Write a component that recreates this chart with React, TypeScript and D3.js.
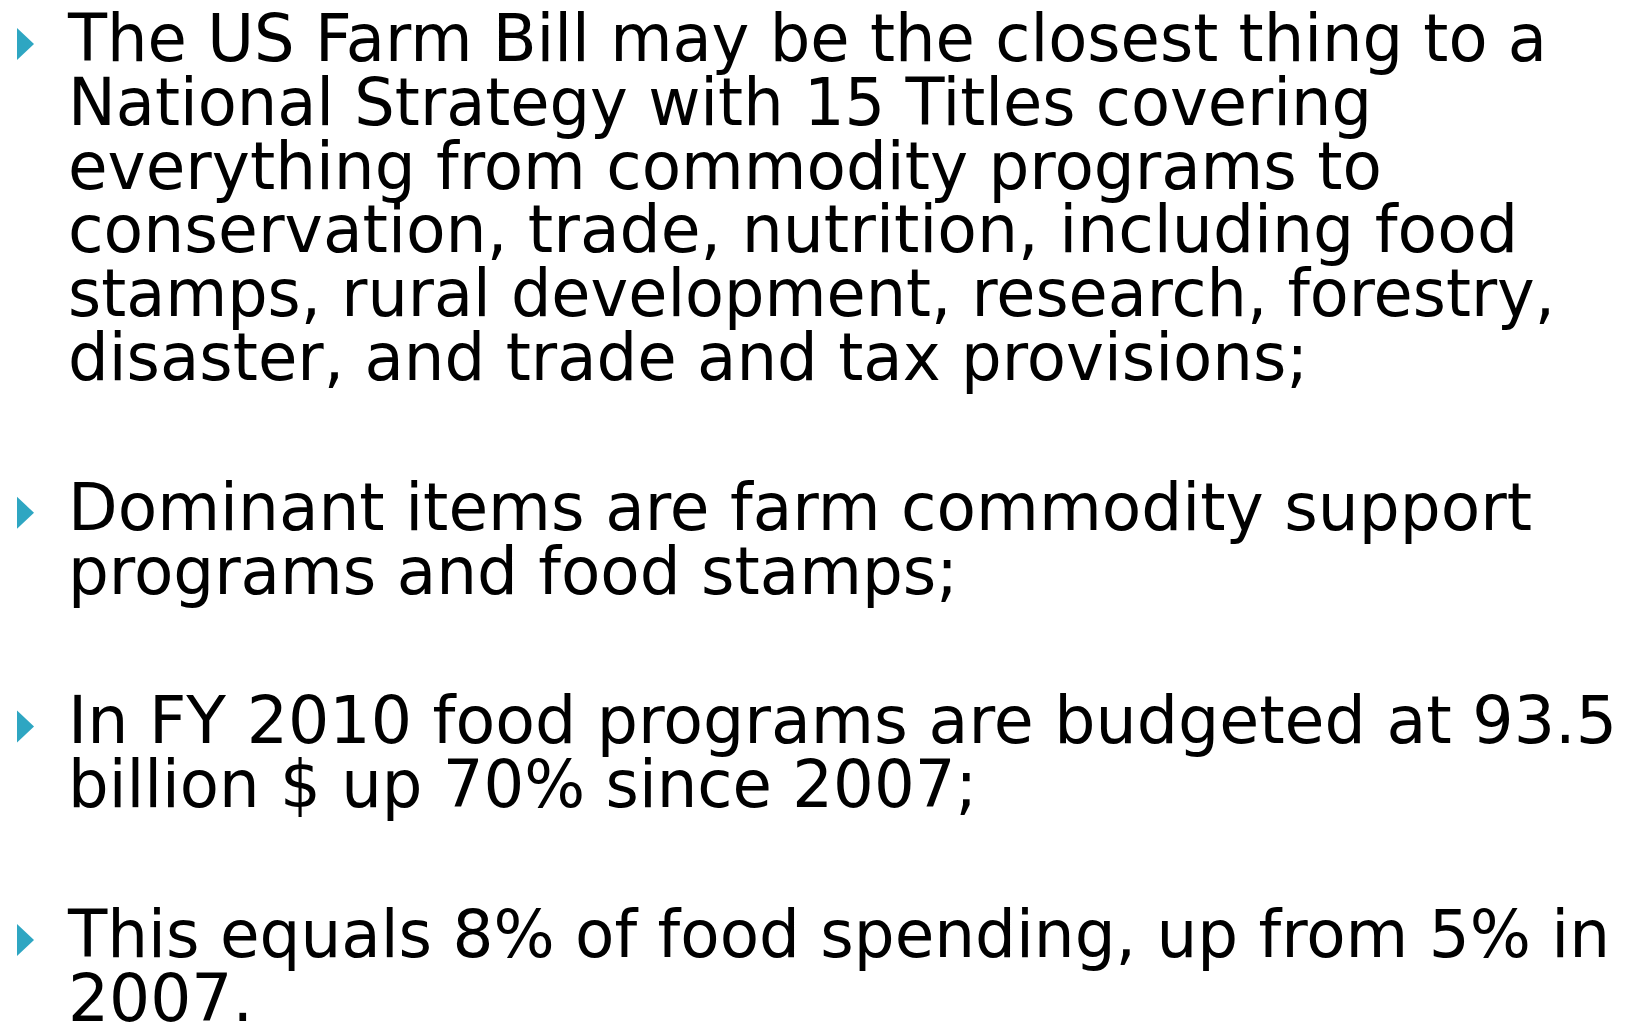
import React, { useEffect, useRef } from "react";
import * as d3 from "d3";

// slide text, one array per bullet (line breaks as in the original)
const bullet1 = [
  "The US Farm Bill may be the closest thing to a",
  "National Strategy with 15 Titles covering",
  "everything from commodity programs to",
  "conservation, trade, nutrition, including food",
  "stamps, rural development, research, forestry,",
  "disaster, and trade and tax provisions;",
];
const bullet2 = [
  "Dominant items are farm commodity support",
  "programs and food stamps;",
];
const bullet3 = [
  "In FY 2010 food programs are budgeted at 93.5",
  "billion $ up 70% since 2007;",
];
const bullet4 = [
  "This equals 8% of food spending, up from 5% in",
  "2007.",
];
// right edge of each line as measured on the slide
const lineEnds = [
  [1547, 1372, 1382, 1518, 1555, 1308],
  [1532, 958],
  [1617, 977],
  [1610, 253],
];

const W = 1629,
  H = 1023;

export default function App() {
  const ref = useRef<SVGSVGElement>(null);

  useEffect(() => {
    const svg = d3.select(ref.current);
    svg.selectAll("*").remove();

    const paras = [bullet1, bullet2, bullet3, bullet4];
    const textX = 68;
    const firstBase = 61;
    const lineH = 63.8;
    const paraGap = 86;

    // flatten to rows with global line index
    const rows: { text: string; p: number; i: number; k: number }[] = [];
    let k = 0;
    paras.forEach((lines, p) =>
      lines.forEach((text, i) => {
        rows.push({ text, p, i, k });
        k++;
      })
    );
    const baseY = (r: { p: number; k: number }) => firstBase + r.k * lineH + r.p * paraGap;

    const g = svg.append("g");

    g.selectAll("text.line")
      .data(rows)
      .enter()
      .append("text")
      .attr("class", "line")
      .attr("x", textX)
      .attr("y", (d) => baseY(d))
      .attr("font-family", "'DejaVu Sans', sans-serif")
      .attr("font-size", 66)
      .attr("fill", "#000")
      .attr("textLength", (d) => lineEnds[d.p][d.i] - textX)
      .attr("lengthAdjust", "spacingAndGlyphs")
      .text((d) => d.text);

    // triangle bullets, one per paragraph
    const firsts = rows.filter((r) => r.i === 0);
    g.selectAll("path.bullet")
      .data(firsts)
      .enter()
      .append("path")
      .attr("class", "bullet")
      .attr("fill", "#2ea6c2")
      .attr("d", (d) => {
        const b = baseY(d) - 1;
        return `M17,${b - 32}L34,${b - 16}L17,${b}Z`;
      });
  }, []);

  return (
    <svg
      ref={ref}
      width={W}
      height={H}
      style={{ position: "absolute", left: 0, top: 0, display: "block", background: "#fff" }}
    />
  );
}
